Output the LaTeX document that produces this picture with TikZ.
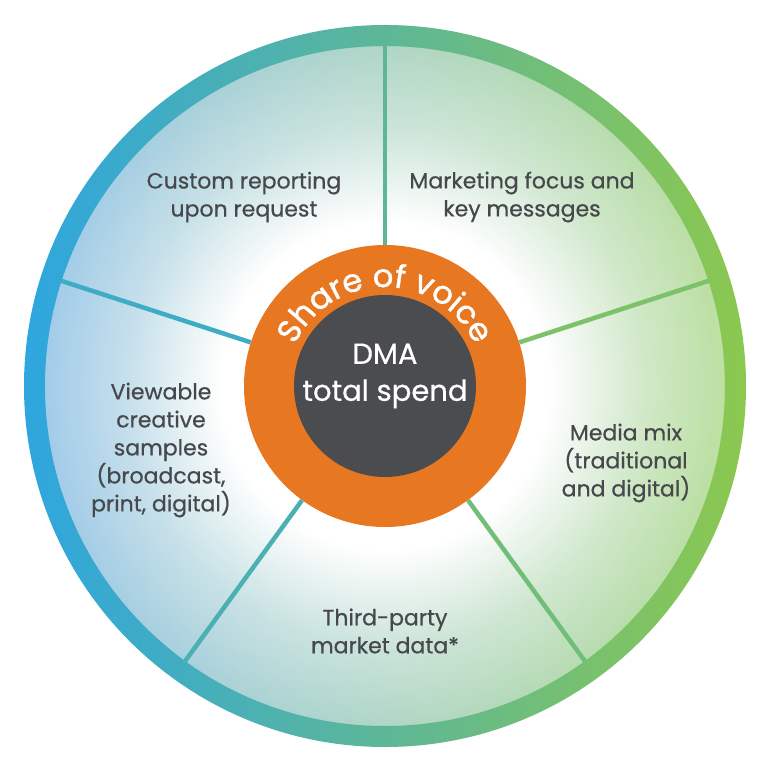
\documentclass[tikz,border=0pt]{standalone}
\usepackage{fontspec}
\usepackage{xcolor}
\usepackage{tikz}
\usetikzlibrary{fadings,decorations.text}

\newfontfamily\wheelfont[FakeBold=0.6]{Poppins}
\newfontfamily\hubfont[FakeBold=1.2]{Poppins}

\definecolor{ringBlue}{HTML}{2EA6DF}
\definecolor{ringGreen}{HTML}{8CC84F}
\definecolor{innerBlue}{HTML}{92C3E8}
\definecolor{innerGreen}{HTML}{B0DA90}
\definecolor{hubOrange}{HTML}{E87722}
\definecolor{coreGrey}{HTML}{4B4C50}
\definecolor{labelGrey}{HTML}{46484C}

% white glow in the middle of the wheel
\pgfdeclareradialshading{glowshade}{\pgfpointorigin}{color(0bp)=(white); color(12bp)=(white); color(19bp)=(black!55); color(28bp)=(black); color(50bp)=(black)}
\pgfdeclarefading{centreglow}{\pgfuseshading{glowshade}}

\tikzset{
  spoke/.style={line width=4.5},
  wheellabel/.style={align=center, text=labelGrey, font=\wheelfont\fontsize{22}{28}\selectfont}
}

\begin{document}
\begin{tikzpicture}[x=1pt,y=1pt]
\useasboundingbox (-385,-384) rectangle (383,386);

% Coloured inside of the wheel
\shade[left color=innerBlue, right color=innerGreen] (0,0) circle[radius=341];
\fill[white, path fading=centreglow] (0,0) circle[radius=341];

% Outer ring
\shade[left color=ringBlue, right color=ringGreen, even odd rule] (0,0) circle[radius=361] (0,0) circle[radius=340];

% Hub
\node[circle, fill=hubOrange, minimum size=282, inner sep=0] (hub) at (0,0) {};
\node[circle, fill=coreGrey, minimum size=182, inner sep=0] (core) at (0,0) {};

% Spokes
\foreach \i/\ang/\mix in {1/90/50,2/18/82,3/-54/70,4/-126/30,5/162/18} {
  \coordinate (rim\i) at (\ang:341);
  \draw[spoke, ringGreen!\mix!ringBlue] (hub.\ang) -- (rim\i);
}

% Hub texts
\node[align=center, text=white, font=\wheelfont\fontsize{29}{37}\selectfont] (dma) at (0,10) {DMA\\total spend};
\path[decorate, decoration={text along path, text align=center, text color=white,
  text={|\hubfont\fontsize{32}{32}\selectfont|Share of voice}}]
  (-99,0) arc[start angle=180, end angle=0, radius=99];

% Segment labels
\node[wheellabel] (custom) at (-141,189) {Custom reporting\\upon request};
\node[wheellabel] (focus) at (137,189) {Marketing focus and\\key messages};
\node[wheellabel] (samples) at (-224,-64) {Viewable\\creative\\samples\\(broadcast,\\print, digital)};
\node[wheellabel] (mix) at (241,-77) {Media mix\\(traditional\\and digital)};
\node[wheellabel] (market) at (0,-245) {Third-party\\market data*};
\end{tikzpicture}
\end{document}
